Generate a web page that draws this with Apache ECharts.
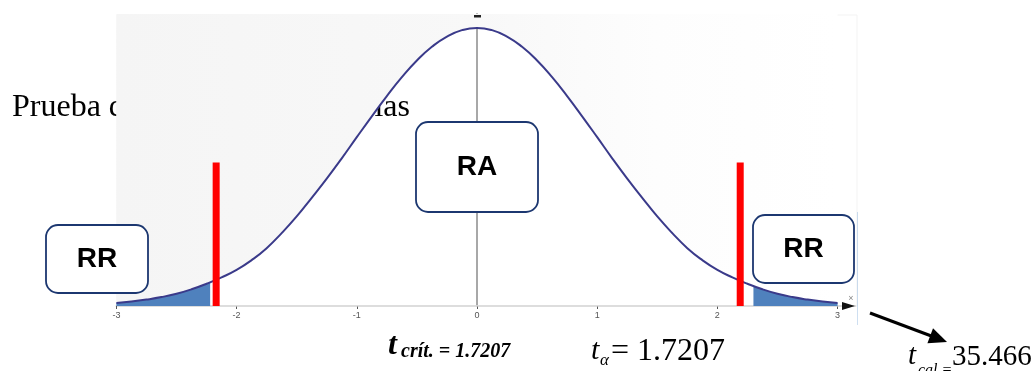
<!DOCTYPE html>
<html>
<head>
<meta charset="utf-8">
<script src="https://cdn.jsdelivr.net/npm/echarts@6/dist/echarts.min.js"></script>
<style>
  html, body { margin: 0; padding: 0; background: #fff; }
  #main { width: 1036px; height: 371px; }
</style>
</head>
<body>
<div id="main"></div>
<script>
// valores t (eje x) y altura relativa de la curva
const tValues = [-3, -2.875, -2.75, -2.625, -2.5, -2.375, -2.25, -2.125, -2, -1.875, -1.75, -1.625,
                 -1.5, -1.375, -1.25, -1.125, -1, -0.875, -0.75, -0.625, -0.5, -0.375, -0.25, -0.125, 0,
                 0.125, 0.25, 0.375, 0.5, 0.625, 0.75, 0.875, 1, 1.125, 1.25, 1.375, 1.5,
                 1.625, 1.75, 1.875, 2, 2.125, 2.25, 2.375, 2.5, 2.625, 2.75, 2.875, 3];
const density = [0.011, 0.016, 0.023, 0.032, 0.044, 0.06, 0.08, 0.103, 0.13, 0.165, 0.208, 0.262,
                 0.322, 0.389, 0.458, 0.531, 0.607, 0.682, 0.755, 0.823, 0.883, 0.932, 0.969, 0.992, 1.0,
                 0.992, 0.969, 0.932, 0.883, 0.823, 0.755, 0.682, 0.607, 0.531, 0.458, 0.389, 0.322,
                 0.262, 0.208, 0.165, 0.13, 0.103, 0.08, 0.06, 0.044, 0.032, 0.023, 0.016, 0.011];
// colas sombreadas (region de rechazo)
const leftTailX = [-3, -2.875, -2.75, -2.625, -2.5, -2.375, -2.22];
const leftTailY = [0.011, 0.016, 0.023, 0.032, 0.044, 0.06, 0.085];
const rightTailX = [2.3, 2.375, 2.5, 2.625, 2.75, 2.875, 3];
const rightTailY = [0.071, 0.06, 0.044, 0.032, 0.023, 0.016, 0.011];
// lineas rojas de valor critico
const critX = [-2.17, 2.19];
const critTop = 0.516;
// linea azul del t calculado (fuera de escala)
const tCalX = 3.18;
const tCalRange = [-0.068, 0.338];
const xTicks = [-3, -2, -1, 0, 1, 2, 3];

const zip = (xs, ys) => xs.map((x, i) => [x, ys[i]]);

var myChart = echarts.init(document.getElementById('main'));

const serif = '"Liberation Serif", "Times New Roman", serif';
const sans = '"Liberation Sans", Arial, sans-serif';

function label(text, x, y, font, align) {
    return {
        type: 'text', z: 10,
        style: { text: text, x: x, y: y, font: font, fill: '#000',
                 textAlign: align || 'left', align: align || 'left',
                 textVerticalAlign: 'middle', verticalAlign: 'middle' }
    };
}
function box(x, y, w, h, text) {
    return [
        { type: 'rect', z: 10, shape: { x: x, y: y, width: w, height: h, r: 12 },
          style: { fill: '#fff', stroke: '#1c3770', lineWidth: 1.8 } },
        { type: 'text', z: 11,
          style: { text: text, x: x + w / 2, y: y + h / 2, font: 'bold 28px ' + sans, fill: '#000',
                   textAlign: 'center', align: 'center', textVerticalAlign: 'middle', verticalAlign: 'middle' } }
    ];
}

myChart.setOption({
    animation: false,
    grid: { left: 116.4, right: 180.4, top: 14, bottom: 65 },
    xAxis: {
        type: 'value', min: -3, max: 3.15,
        axisLine: { onZero: false, lineStyle: { color: '#b5b5b5', width: 1.5 } },
        axisTick: { customValues: xTicks, length: 3, lineStyle: { color: '#555' } },
        axisLabel: { customValues: xTicks, fontSize: 9, color: '#555', margin: 5, fontFamily: sans },
        splitLine: { show: false }
    },
    yAxis: {
        type: 'value', min: 0, max: 1.05,
        axisLine: { show: true, onZero: true, lineStyle: { color: '#a8a8a8', width: 2 } },
        axisTick: { show: false }, axisLabel: { show: false }, splitLine: { show: false }
    },
    series: [
        {
            name: 'curva', type: 'line', z: 3, smooth: true, showSymbol: false,
            data: zip(tValues, density),
            lineStyle: { color: '#3a3a8a', width: 2 },
            areaStyle: {
                origin: 'end', opacity: 1,
                color: new echarts.graphic.LinearGradient(0, 0, 1, 0, [
                    { offset: 0, color: '#f5f5f5' },
                    { offset: 0.5, color: '#f8f8f8' },
                    { offset: 0.75, color: '#fdfdfd' },
                    { offset: 1, color: '#ffffff' }
                ])
            }
        },
        {
            name: 'cola izq', type: 'line', z: 2, smooth: true, showSymbol: false,
            data: zip(leftTailX, leftTailY),
            lineStyle: { width: 0 }, areaStyle: { color: '#4f81bd', opacity: 1 }
        },
        {
            name: 'cola der', type: 'line', z: 2, smooth: true, showSymbol: false,
            data: zip(rightTailX, rightTailY),
            lineStyle: { width: 0 }, areaStyle: { color: '#4f81bd', opacity: 1 }
        },
        {
            name: 'critico izq', type: 'line', z: 4, showSymbol: false,
            data: [[critX[0], 0], [critX[0], critTop]],
            lineStyle: { color: '#ff0000', width: 7, cap: 'butt' }
        },
        {
            name: 'critico der', type: 'line', z: 4, showSymbol: false,
            data: [[critX[1], 0], [critX[1], critTop]],
            lineStyle: { color: '#ff0000', width: 7, cap: 'butt' }
        },
        {
            name: 't calculado', type: 'line', z: 4, showSymbol: false, clip: false,
            data: [[tCalX, tCalRange[0]], [tCalX, tCalRange[1]]],
            lineStyle: { color: '#5b95d0', width: 3 }
        }
    ],
    graphic: {
        elements: [
            // texto de fondo, tapado por la imagen del grafico
            { type: 'text', z: 0,
              style: { text: 'Prueba de hipótesis', x: 12, y: 108, font: '32px ' + serif, fill: '#000',
                       textAlign: 'left', align: 'left', textVerticalAlign: 'middle', verticalAlign: 'middle' } },
            { type: 'text', z: 0,
              style: { text: 'de dos colas', x: 410, y: 108, font: '32px ' + serif, fill: '#000',
                       textAlign: 'right', align: 'right', textVerticalAlign: 'middle', verticalAlign: 'middle' } },
            // borde tenue de la imagen
            { type: 'rect', z: 1, shape: { x: 117, y: 15, width: 740, height: 291 },
              style: { fill: 'none', stroke: '#f3f3f3', lineWidth: 1 } },
            // flecha del eje x y marca del eje y
            { type: 'polygon', z: 5, shape: { points: [[842, 302], [855, 306], [842, 310]] },
              style: { fill: '#111' } },
            { type: 'text', z: 5, style: { text: '×', x: 851, y: 299, font: '9px ' + sans, fill: '#888',
                       textAlign: 'center', align: 'center', textVerticalAlign: 'middle', verticalAlign: 'middle' } },
            { type: 'rect', z: 5, shape: { x: 474, y: 15, width: 7, height: 2.5 }, style: { fill: '#222' } },
            ...box(46, 225, 102, 68, 'RR'),
            ...box(416, 122, 122, 90, 'RA'),
            ...box(753, 215, 101, 68, 'RR'),
            // etiquetas inferiores
            label('t', 388, 346, 'italic bold 32px ' + serif),
            label('crít. = 1.7207', 401, 352, 'italic bold 20px ' + serif),
            label('t', 591, 351, 'italic 30px ' + serif),
            label('α', 600, 361, 'italic 17px ' + serif),
            label('= 1.7207', 611, 352, '32px ' + serif),
            label('t', 908, 356, 'italic 29px ' + serif),
            label('cal =', 918, 371, 'italic 16px ' + serif),
            label('35.466', 952, 357, '29px ' + serif),
            // flecha hacia t calculado
            { type: 'line', z: 10, shape: { x1: 870, y1: 313, x2: 934, y2: 337 },
              style: { stroke: '#000', lineWidth: 3 } },
            { type: 'polygon', z: 10, shape: { points: [[947, 342], [927.4, 343.2], [933, 328.2]] },
              style: { fill: '#000' } }
        ]
    }
});
</script>
</body>
</html>
